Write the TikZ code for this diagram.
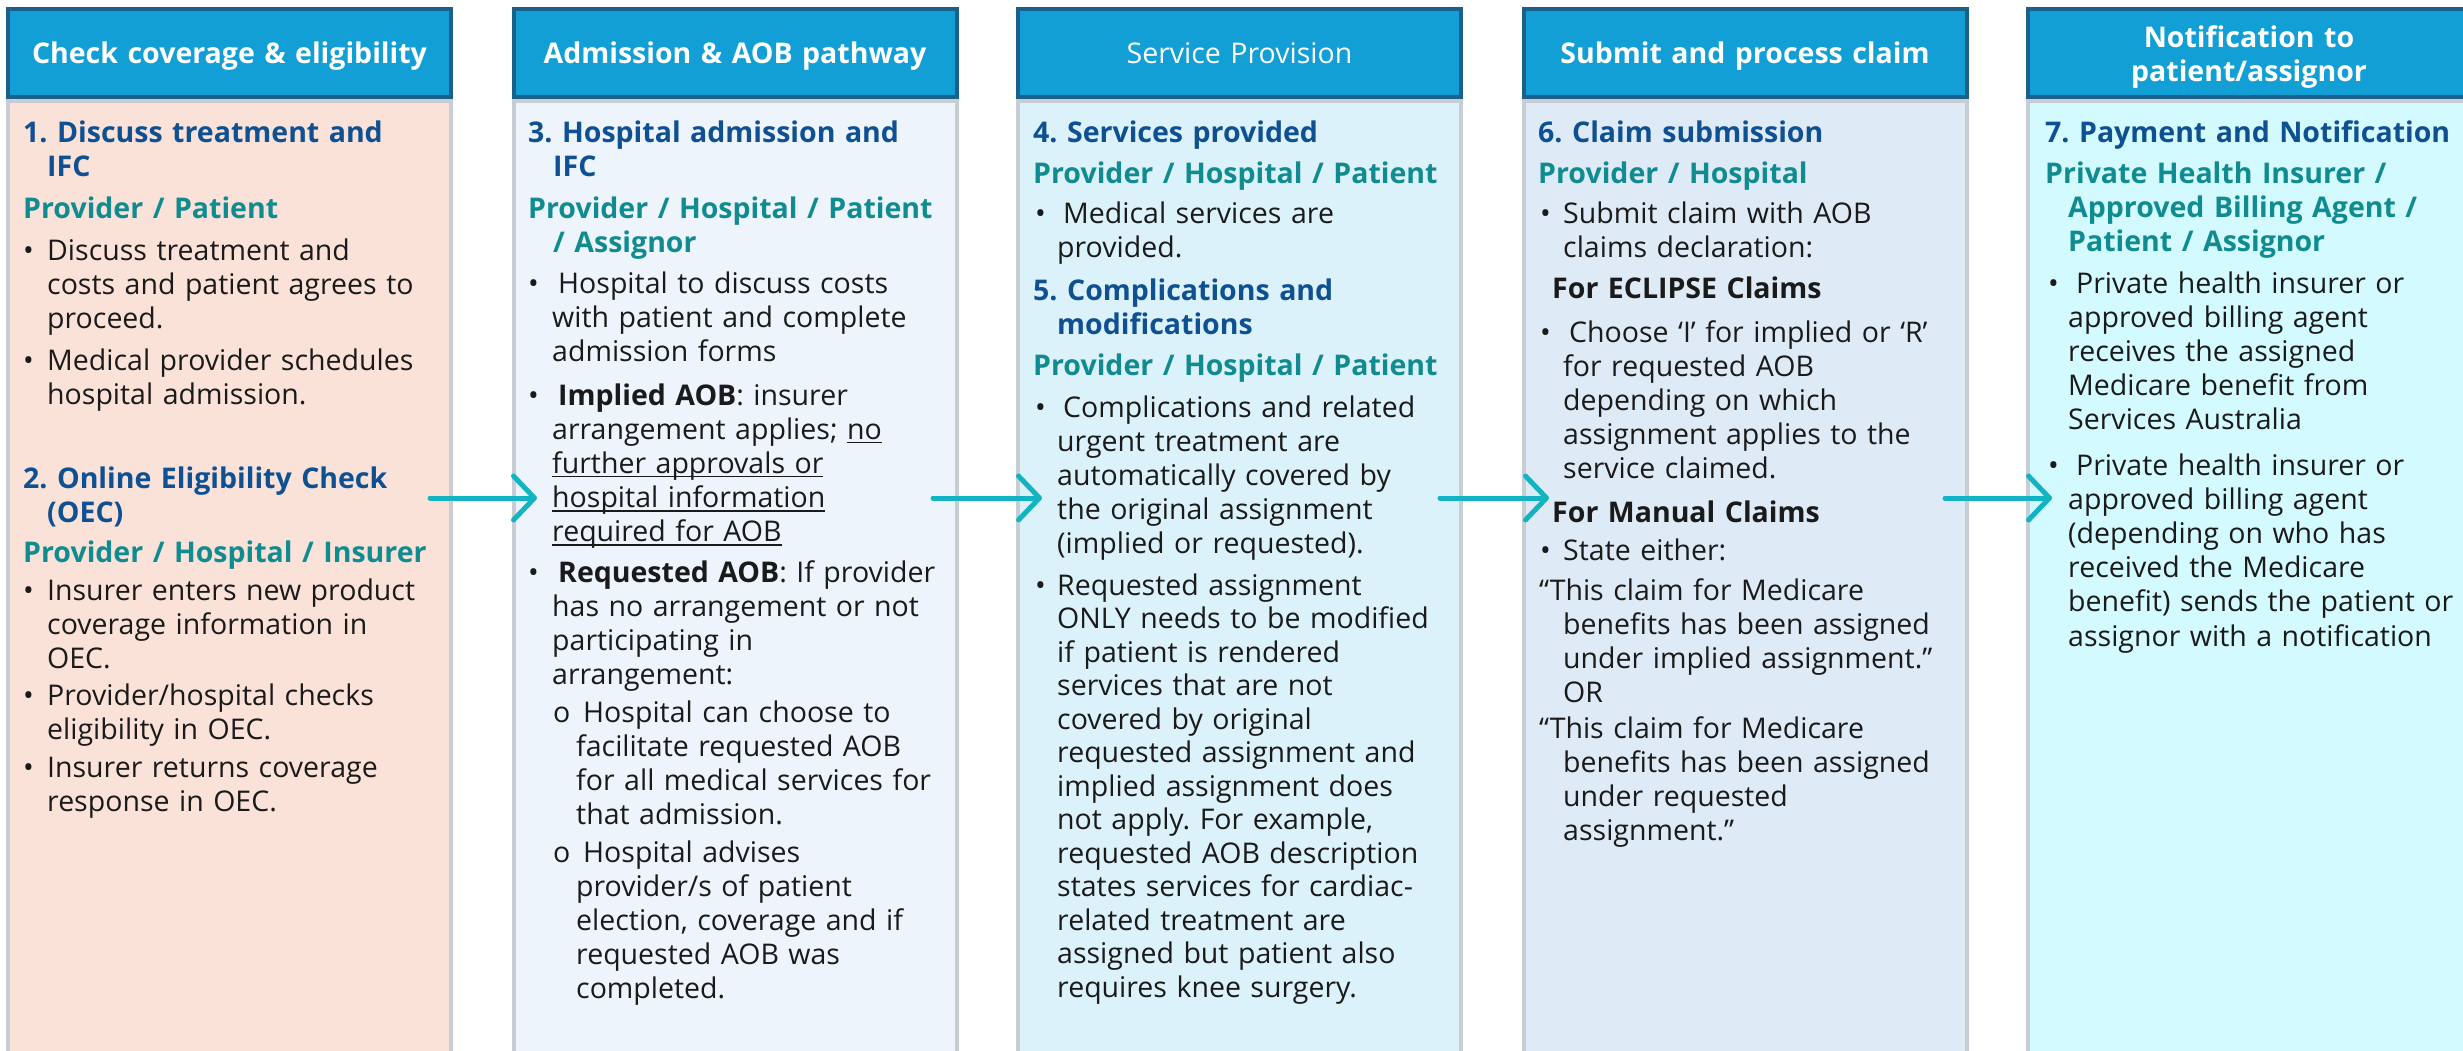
\documentclass[tikz,border=0pt]{standalone}
\usepackage{fontspec}
\setmainfont{Open Sans}
\usetikzlibrary{arrows.meta}
\frenchspacing
\definecolor{hdrfill}{RGB}{17,159,214}
\definecolor{hdrline}{RGB}{26,96,138}
\definecolor{bodyline}{RGB}{200,205,212}
\definecolor{cA}{RGB}{250,226,217}
\definecolor{cB}{RGB}{238,244,252}
\definecolor{cC}{RGB}{220,242,250}
\definecolor{cD}{RGB}{222,234,246}
\definecolor{cE}{RGB}{211,250,254}
\definecolor{stepblue}{RGB}{14,80,145}
\definecolor{roleteal}{RGB}{16,140,145}
\definecolor{txt}{RGB}{26,26,26}
\definecolor{arrowc}{RGB}{18,180,196}
\newcommand\ulx[1]{\mbox{\setbox0\hbox{#1}\rlap{\rule[-4pt]{\wd0}{1.5pt}}\box0}}
\newcommand\bp[3]{\hangindent=#2pt\hangafter=1\makebox[#1pt][l]{•}#3\par}
\newcommand\op[3]{\hangindent=#2pt\hangafter=1\makebox[#1pt][l]{o}#3\par}
\newcommand\hp[2]{\hangindent=#1pt\hangafter=1\relax#2\par}
\newcommand\txtfont{\fontsize{28.5pt}{34.2pt}\selectfont\frenchspacing}
\tikzset{
  hdrbox/.style={draw=hdrline, line width=4pt, fill=hdrfill},
  bodybox/.style={draw=bodyline, line width=4pt},
  hdrtext/.style={anchor=base, inner sep=0pt, text width=440pt, align=center, text=white, font=\txtfont\bfseries},
  para/.style={anchor=base west, inner sep=0pt, text width=440pt, align=left, text=txt, font=\txtfont},
  steph/.style={para, text=stepblue, font=\txtfont\bfseries},
  rolehd/.style={para, text=roleteal, font=\txtfont\bfseries},
  subhd/.style={para, text=txt, font=\txtfont\bfseries},
  flowarrow/.style={draw=arrowc, line width=5pt, line cap=round, -{Straight Barb[length=21pt,width=44pt,round]}}
}
\begin{document}
\begin{tikzpicture}[x=1pt,y=-1pt]
\useasboundingbox (0,0) rectangle (2463,1050);
\clip (0,0) rectangle (2463,1050);
\foreach \x/\c in {8/cA, 514/cB, 1018/cC, 1524/cD, 2028/cE} {
  \draw[hdrbox] (\x,9) rectangle ++(443,88);
  \draw[bodybox, fill=\c] (\x,101) rectangle ++(443,960);
}
% headers
\node[hdrtext] (h1) at (229.5,63) {Check coverage \& eligibility};
\node[hdrtext] (h2) at (735,63) {Admission \& AOB pathway};
\node[hdrtext, font=\txtfont] (h3) at (1239.5,63) {Service Provision};
\node[hdrtext] (h4) at (1745,63) {Submit and process claim};
\node[hdrtext] (h5) at (2249,47) {Notification to\\patient/assignor};
% column 1
\node[steph] (s1) at (23,142) {\hp{24}{1. Discuss treatment and\newline IFC}};
\node[rolehd] (r1) at (23,218) {Provider / Patient};
\node[para] (b1a) at (23,260) {\bp{24}{24}{Discuss treatment and\newline costs and patient agrees to\newline proceed.}};
\node[para] (b1b) at (23,370) {\bp{24}{24}{Medical provider schedules\newline hospital admission.}};
\node[steph] (s2) at (23,488) {\hp{24}{2. Online Eligibility Check\newline (OEC)}};
\node[rolehd] (r2) at (23,562) {Provider / Hospital / Insurer};
\node[para] (b2a) at (23,600) {\bp{24}{24}{Insurer enters new product\newline coverage information in\newline OEC.}};
\node[para] (b2b) at (23,705) {\bp{24}{24}{Provider/hospital checks\newline eligibility in OEC.}};
\node[para] (b2c) at (23,777) {\bp{24}{24}{Insurer returns coverage\newline response in OEC.}};
% column 2
\node[steph] (s3) at (528,142) {\hp{25}{3. Hospital admission and\newline IFC}};
\node[rolehd] (r3) at (528,218) {\hp{25}{Provider / Hospital / Patient\newline / Assignor}};
\node[para] (b3a) at (528,293) {\bp{30}{24}{Hospital to discuss costs\newline with patient and complete\newline admission forms}};
\node[para] (b3b) at (528,405) {\bp{30}{24}{\textbf{Implied AOB}: insurer\newline arrangement applies; \ulx{no}\newline \ulx{further approvals or}\newline \ulx{hospital information}\newline \ulx{required for AOB}}};
\node[para] (b3c) at (528,582) {\bp{30}{24}{\textbf{Requested AOB}: If provider\newline has no arrangement or not\newline participating in\newline arrangement:}};
\node[para] (b3d) at (553,722) {\op{30}{23}{Hospital can choose to\newline facilitate requested AOB\newline for all medical services for\newline that admission.}};
\node[para] (b3e) at (553,862) {\op{30}{23}{Hospital advises\newline provider/s of patient\newline election, coverage and if\newline requested AOB was\newline completed.}};
% column 3
\node[steph] (s4) at (1033,142) {4. Services provided};
\node[rolehd] (r4) at (1033,183) {Provider / Hospital / Patient};
\node[para] (b4a) at (1035,223) {\bp{28}{22}{Medical services are\newline provided.}};
\node[steph] (s5) at (1033,300) {\hp{24}{5. Complications and\newline modifications}};
\node[rolehd] (r5) at (1033,375) {Provider / Hospital / Patient};
\node[para] (b5a) at (1035,417) {\bp{28}{22}{Complications and related\newline urgent treatment are\newline automatically covered by\newline the original assignment\newline (implied or requested).}};
\node[para, font=\fontsize{28.5pt}{33.5pt}\selectfont\frenchspacing] (b5b) at (1035,595) {\bp{22}{22}{Requested assignment\newline ONLY needs to be modified\newline if patient is rendered\newline services that are not\newline covered by original\newline requested assignment and\newline implied assignment does\newline not apply. For example,\newline requested AOB description\newline states services for cardiac-\newline related treatment are\newline assigned but patient also\newline requires knee surgery.}};
% column 4
\node[steph] (s6) at (1538,142) {6. Claim submission};
\node[rolehd] (r6) at (1538,183) {Provider / Hospital};
\node[para] (b6a) at (1540,223) {\bp{23}{23}{Submit claim with AOB\newline claims declaration:}};
\node[subhd] (e6) at (1552,298) {For ECLIPSE Claims};
\node[para] (b6b) at (1540,342) {\bp{29}{23}{Choose ‘I’ for implied or ‘R’\newline for requested AOB\newline depending on which\newline assignment applies to the\newline service claimed.}};
\node[subhd] (m6) at (1552,522) {For Manual Claims};
\node[para] (b6c) at (1540,560) {\bp{23}{23}{State either:}};
\node[para] (q6a) at (1539,600) {\hp{24}{“This claim for Medicare\newline benefits has been assigned\newline under implied assignment.”\newline OR}};
\node[para] (q6b) at (1539,738) {\hp{24}{“This claim for Medicare\newline benefits has been assigned\newline under requested\newline assignment.”}};
% column 5
\node[steph] (s7) at (2045,142) {7. Payment and Notification};
\node[rolehd] (r7) at (2045,183) {\hp{23}{Private Health Insurer /\newline Approved Billing Agent /\newline Patient / Assignor}};
\node[para] (b7a) at (2048,293) {\bp{28}{20}{Private health insurer or\newline approved billing agent\newline receives the assigned\newline Medicare benefit from\newline Services Australia}};
\node[para] (b7b) at (2048,475) {\bp{28}{20}{Private health insurer or\newline approved billing agent\newline (depending on who has\newline received the Medicare\newline benefit) sends the patient or\newline assignor with a notification}};
% arrows
\coordinate (a1s) at (430,498); \coordinate (a1e) at (537,498);
\coordinate (a2s) at (933,498); \coordinate (a2e) at (1042,498);
\coordinate (a3s) at (1440,498); \coordinate (a3e) at (1549,498);
\coordinate (a4s) at (1945,498); \coordinate (a4e) at (2052,498);
\draw[flowarrow] (a1s) -- (a1e);
\draw[flowarrow] (a2s) -- (a2e);
\draw[flowarrow] (a3s) -- (a3e);
\draw[flowarrow] (a4s) -- (a4e);
\end{tikzpicture}
\end{document}
